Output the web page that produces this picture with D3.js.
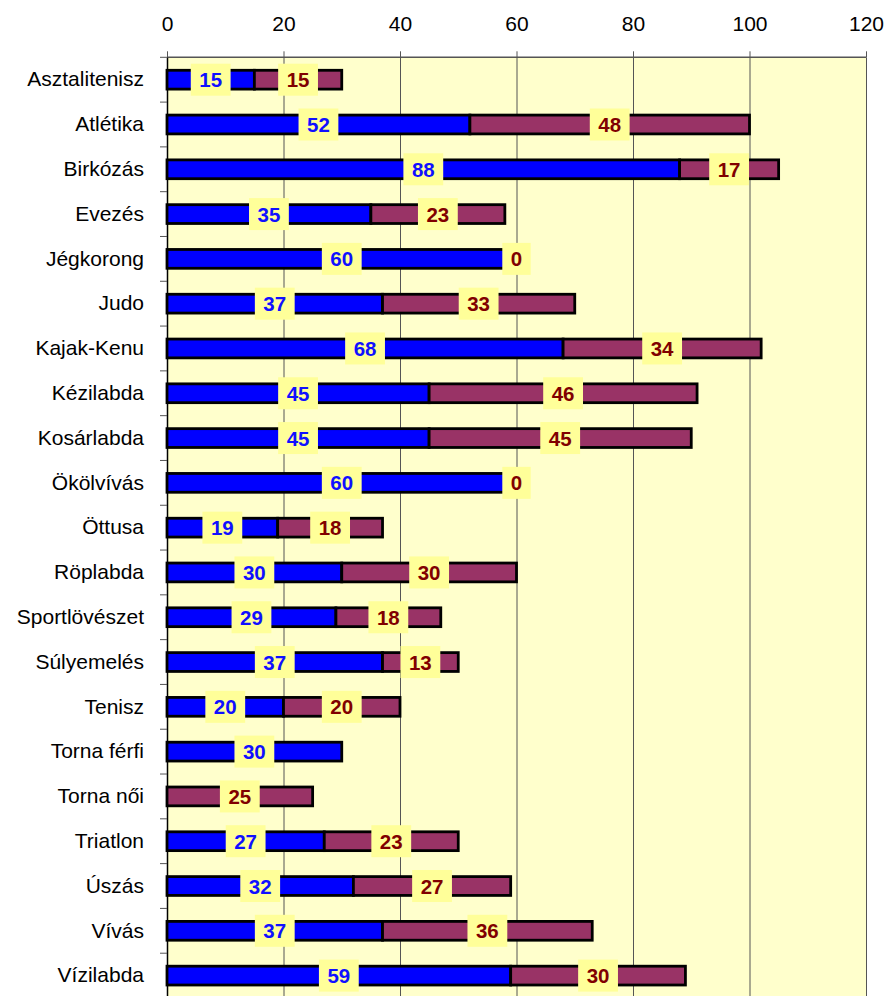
<!DOCTYPE html>
<html><head><meta charset="utf-8">
<script src="https://cdn.jsdelivr.net/npm/d3@7"></script>
<style>body{margin:0;background:#fff;}svg{display:block;}</style>
</head><body>
<svg id="chart" width="888" height="996"></svg>
<script>
const categories = ["Asztalitenisz","Atlétika","Birkózás","Evezés","Jégkorong","Judo","Kajak-Kenu","Kézilabda","Kosárlabda","Ökölvívás","Öttusa","Röplabda","Sportlövészet","Súlyemelés","Tenisz","Torna férfi","Torna női","Triatlon","Úszás","Vívás","Vízilabda"];
const seriesA = [15,52,88,35,60,37,68,45,45,60,19,30,29,37,20,30,null,27,32,37,59];
const seriesB = [15,48,17,23,0,33,34,46,45,0,18,30,18,13,20,null,25,23,27,36,30];
const xTicks = [0,20,40,60,80,100,120];

(function(){
const svg = d3.select("#chart");
const L = 167, R = 866, T = 57.3, B = 998;
const x = d3.scaleLinear().domain([0,120]).range([L,R]);
const y = d3.scaleBand().domain(categories).range([T,B]).paddingInner(0.58).paddingOuter(0.29);

svg.append("rect").attr("x",L).attr("y",T).attr("width",R-L).attr("height",B-T).attr("fill","#FFFFCC");

svg.append("g").selectAll("line").data(xTicks.slice(1)).join("line")
  .attr("x1",d=>x(d)+0.5).attr("x2",d=>x(d)+0.5).attr("y1",T).attr("y2",B)
  .attr("stroke","#555").attr("stroke-width",1);
svg.append("line").attr("x1",L).attr("x2",R).attr("y1",T).attr("y2",T).attr("stroke","#555").attr("stroke-width",1.5);

const xAxis = svg.append("g").attr("transform",`translate(0,${T})`)
  .call(d3.axisTop(x).tickValues(xTicks).tickSize(6).tickPadding(20).tickSizeOuter(0));
xAxis.select(".domain").remove();
xAxis.selectAll("line").attr("stroke","#555");
xAxis.selectAll("text").attr("font-family","Liberation Sans, Arial, sans-serif").attr("font-size",21).attr("fill","#000");

const yAxis = svg.append("g").attr("transform",`translate(${L},0)`)
  .call(d3.axisLeft(y).tickSize(0).tickPadding(23));
yAxis.select(".domain").attr("stroke","#000").attr("stroke-width",1.5);
yAxis.selectAll("text").attr("font-family","Liberation Sans, Arial, sans-serif").attr("font-size",21).attr("fill","#000");
const step = y.step();
svg.append("g").selectAll("line").data(d3.range(categories.length+1)).join("line")
  .attr("x1",L-7).attr("x2",L).attr("y1",d=>T+d*step).attr("y2",d=>T+d*step)
  .attr("stroke","#555");

const rows = categories.map((c,i)=>({c,a:seriesA[i],b:seriesB[i]}));
const barG = svg.append("g");
rows.forEach(r=>{
  const a = r.a||0;
  if(r.a!=null){
    barG.append("rect").attr("x",x(0)).attr("y",y(r.c)).attr("width",x(a)-x(0)).attr("height",y.bandwidth())
      .attr("fill","#0000FF").attr("stroke","#000").attr("stroke-width",2.8);
  }
  if(r.b!=null && r.b>0){
    barG.append("rect").attr("x",x(a)).attr("y",y(r.c)).attr("width",x(a+r.b)-x(a)).attr("height",y.bandwidth())
      .attr("fill","#993366").attr("stroke","#000").attr("stroke-width",2.8);
  }
});

const labG = svg.append("g").attr("font-family","Liberation Sans, Arial, sans-serif").attr("font-weight","bold").attr("font-size",20.5);
function label(cx, cy, txt, color){
  const g = labG.append("g");
  const t = g.append("text").attr("x",cx).attr("y",cy+7.5).attr("text-anchor","middle").attr("fill",color).text(txt);
  const w = t.node().getComputedTextLength();
  g.insert("rect","text").attr("x",cx-w/2-8.5).attr("y",cy-16).attr("width",w+17).attr("height",32).attr("fill","#FFFF99");
}
rows.forEach(r=>{
  const cy = y(r.c)+y.bandwidth()/2;
  const a = r.a||0;
  if(r.a!=null) label(x(a/2), cy, r.a, "#1010FF");
  if(r.b!=null) label(x(a+r.b/2), cy, r.b, "#800000");
});
})();
</script>
</body></html>
